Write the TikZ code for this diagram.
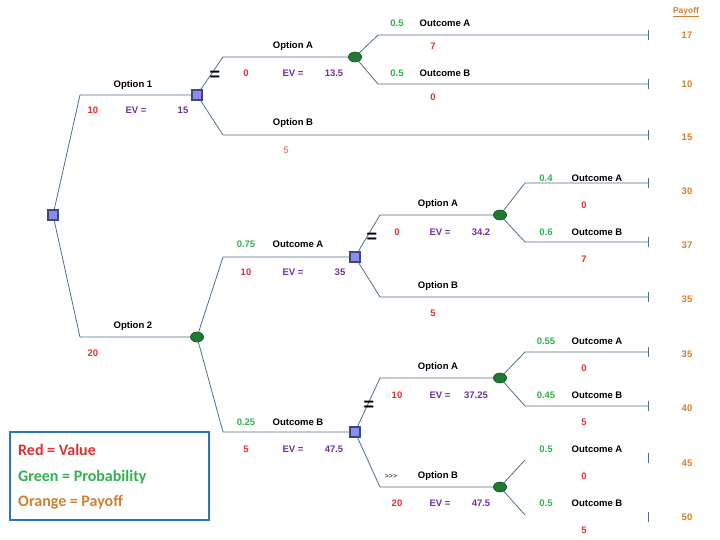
\documentclass[tikz,border=0pt]{standalone}
\usepackage{fontspec}
\setmainfont{Liberation Sans}
\newfontfamily\legfont{Carlito}
\usetikzlibrary{shapes.geometric}
\begin{document}
\begin{tikzpicture}[x=1pt,y=-1pt,
 ln/.style={draw=lncol,line width=0.8pt},
 dec/.style={draw=deccol,fill=decfill,line width=1.3pt,minimum size=10pt,inner sep=0pt},
 chn/.style={draw=chncol!70!black,fill=chncol,ellipse,minimum width=13pt,minimum height=10pt,inner sep=0pt},
 t/.style={font=\bfseries\fontsize{9.5}{10}\selectfont,inner sep=0pt},
 val/.style={t,text=valcol},
 ev/.style={t,text=evcol},
 pr/.style={t,text=prcol},
 po/.style={t,text=pocol},
 eq/.style={font=\bfseries\fontsize{18}{18}\selectfont,inner sep=0pt},
 lg/.style={anchor=west,inner sep=0pt,font=\legfont\bfseries\fontsize{16}{17}\selectfont},
 tk/.style={ln}]
\definecolor{lncol}{HTML}{4F6E8E}
\definecolor{deccol}{HTML}{3A4A7A}
\definecolor{decfill}{HTML}{8C8CF0}
\definecolor{chncol}{HTML}{1E7A2E}
\definecolor{valcol}{HTML}{E03030}
\definecolor{evcol}{HTML}{7030A0}
\definecolor{prcol}{HTML}{30B050}
\definecolor{pocol}{HTML}{D08030}
\definecolor{legcol}{HTML}{2E75B6}
\useasboundingbox (0,0) rectangle (720,540);
% nodes
\node[dec] (r) at (53,215) {};
\node[dec] (d1) at (197,95) {};
\node[chn] (c2) at (197,337) {};
\node[chn] (c1) at (355,57) {};
\node[dec] (d2) at (355,257) {};
\node[dec] (d3) at (355,432) {};
\node[chn] (c3) at (500,215) {};
\node[chn] (c4) at (500,378) {};
\node[chn] (c5) at (500,487) {};
% coordinates
\foreach \n/\x/\y in {a1/80/95,a2/80/337,b1/223/57,b2/223/135,e2/648/135,
 f1/378/35,g1/648/35,f2/378/84,g2/648/84,
 h1/223/257,h2/223/432,i1/380/215,i2/380/297,j2/648/297,
 k1/525/183,l1/648/183,k2/525/242,l2/648/242,
 m1/380/378,m2/380/487,
 n1/525/352,o1/648/352,n2/525/406,o2/648/406,
 p1/525/460,p2/525/515}
 \coordinate (\n) at (\x,\y);
\draw[ln] (r) -- (a1) -- (d1);
\draw[ln] (r) -- (a2) -- (c2);
\draw[ln] (d1) -- (b1) -- (c1);
\draw[ln] (d1) -- (b2) -- (e2);
\draw[ln] (c1) -- (f1) -- (g1);
\draw[ln] (c1) -- (f2) -- (g2);
\draw[ln] (c2) -- (h1) -- (d2);
\draw[ln] (c2) -- (h2) -- (d3);
\draw[ln] (d2) -- (i1) -- (c3);
\draw[ln] (d2) -- (i2) -- (j2);
\draw[ln] (c3) -- (k1) -- (l1);
\draw[ln] (c3) -- (k2) -- (l2);
\draw[ln] (d3) -- (m1) -- (c4);
\draw[ln] (d3) -- (m2) -- (c5);
\draw[ln] (c4) -- (n1) -- (o1);
\draw[ln] (c4) -- (n2) -- (o2);
\draw[ln] (c5) -- (p1);
\draw[ln] (c5) -- (p2);
\foreach \y in {35,84,135,183,242,297,352,406,458,517}
 \draw[tk] (648,\y-5) -- (648,\y+5);
\node[dec] at (r) {};\node[dec] at (d1) {};\node[dec] at (d2) {};\node[dec] at (d3) {};
\foreach \c in {c1,c2,c3,c4,c5} \node[chn] at (\c) {};
% labels
\node[t] (l1) at (133,85) {Option 1};
\node[val] (l2) at (93,110) {10};
\node[ev] (l3) at (136,110) {EV =};
\node[ev] (l4) at (183,110) {15};
\node[t] (l5) at (293,46) {Option A};
\node[val] (l6) at (246,73) {0};
\node[ev] (l7) at (293,73) {EV =};
\node[ev] (l8) at (334,73) {13.5};
\node[t] (l9) at (293,123) {Option B};
\node[val,opacity=0.6] (l10) at (286,150) {5};
\node[pr] (l11) at (397,23) {0.5};
\node[t] (l12) at (445,23) {Outcome A};
\node[val] (l13) at (433,46) {7};
\node[pr] (l14) at (397,73) {0.5};
\node[t] (l15) at (445,73) {Outcome B};
\node[val] (l16) at (433,97) {0};
\node[t] (l17) at (133,326) {Option 2};
\node[val] (l18) at (93,353) {20};
\node[pr] (l19) at (246,244) {0.75};
\node[t] (l20) at (298,244) {Outcome A};
\node[val] (l21) at (246,272) {10};
\node[ev] (l22) at (293,272) {EV =};
\node[ev] (l23) at (340,272) {35};
\node[pr] (l24) at (246,422) {0.25};
\node[t] (l25) at (298,422) {Outcome B};
\node[val] (l26) at (246,449) {5};
\node[ev] (l27) at (293,449) {EV =};
\node[ev] (l28) at (334,449) {47.5};
\node[t] (l29) at (438,204) {Option A};
\node[val] (l30) at (397,232) {0};
\node[ev] (l31) at (440,232) {EV =};
\node[ev] (l32) at (481,232) {34.2};
\node[pr] (l33) at (546,178) {0.4};
\node[t] (l34) at (597,178) {Outcome A};
\node[val] (l35) at (584,205) {0};
\node[pr] (l36) at (546,232) {0.6};
\node[t] (l37) at (597,232) {Outcome B};
\node[val] (l38) at (584,259) {7};
\node[t] (l39) at (438,286) {Option B};
\node[val] (l40) at (433,313) {5};
\node[t] (l41) at (438,367) {Option A};
\node[val] (l42) at (397,395) {10};
\node[ev] (l43) at (440,395) {EV =};
\node[ev] (l44) at (476,395) {37.25};
\node[pr] (l45) at (546,341) {0.55};
\node[t] (l46) at (597,341) {Outcome A};
\node[val] (l47) at (584,368) {0};
\node[pr] (l48) at (546,395) {0.45};
\node[t] (l49) at (597,395) {Outcome B};
\node[val] (l50) at (584,422) {5};
\node[t,font=\fontsize{7}{7}\selectfont] (l51) at (391,476) {>{}>{}>};
\node[t] (l52) at (438,476) {Option B};
\node[val] (l53) at (397,503) {20};
\node[ev] (l54) at (440,503) {EV =};
\node[ev] (l55) at (481,503) {47.5};
\node[pr] (l56) at (546,449) {0.5};
\node[t] (l57) at (597,449) {Outcome A};
\node[val] (l58) at (584,476) {0};
\node[pr] (l59) at (546,503) {0.5};
\node[t] (l60) at (597,503) {Outcome B};
\node[val] (l61) at (584,530) {5};
\node[eq] (q1) at (215,76) {=};
\node[eq] (q2) at (372,238) {=};
\node[eq] (q3) at (369,406) {=};
\node[po,font=\fontsize{8.5}{9}\selectfont\bfseries] (pay) at (686,12) {\underline{Payoff}};
\foreach \v/\y [count=\i] in {17/35,10/84,15/137,30/191,37/245,35/299,35/354,40/408,45/463,50/517}
 \node[po] (p\i) at (687,\y) {\v};
% legend
\node[draw=legcol,line width=1.4pt,minimum width=199pt,minimum height=88pt,inner sep=0pt] (leg) at (109.5,476) {};
\node[lg,text=valcol] (lg1) at (18,450) {Red = Value};
\node[lg,text=prcol] (lg2) at (18,477) {Green = Probability};
\node[lg,text=pocol] (lg3) at (18,502) {Orange = Payoff};
\end{tikzpicture}
\end{document}
